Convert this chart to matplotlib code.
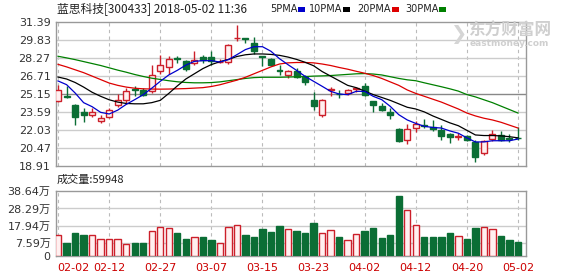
import matplotlib
matplotlib.use("Agg")
import matplotlib.pyplot as plt
import matplotlib.transforms as mtransforms

plt.rcParams['font.family'] = ['DejaVu Sans', 'Noto Sans CJK SC']

dates = ["02-02","02-05","02-06","02-07","02-08","02-09","02-12","02-13","02-14","02-22",
         "02-23","02-26","02-27","02-28","03-01","03-02","03-05","03-06","03-07","03-08",
         "03-09","03-12","03-13","03-14","03-15","03-16","03-19","03-20","03-21","03-22",
         "03-23","03-26","03-27","03-28","03-29","03-30","04-02","04-03","04-04","04-09",
         "04-10","04-11","04-12","04-13","04-16","04-17","04-18","04-19","04-20","04-23",
         "04-24","04-25","04-26","04-27","05-02"]
opens  = [24.52,24.95,24.17,23.56,23.36,22.84,23.19,24.17,24.66,25.55,
          25.50,25.38,27.12,27.46,28.30,28.04,27.84,28.33,28.33,27.92,
          27.89,29.98,29.98,29.57,28.43,28.18,27.20,26.77,27.12,26.60,
          24.66,23.30,25.50,25.18,25.21,25.58,25.82,24.52,24.11,23.59,
          22.12,21.19,22.20,22.43,22.32,22.06,21.68,21.46,21.48,20.99,
          20.04,21.28,21.57,21.30,21.33]
closes = [25.53,24.86,23.13,23.36,23.56,23.07,23.76,24.60,25.38,25.48,
          25.08,26.83,27.69,28.21,28.22,27.35,28.13,28.10,27.98,27.96,
          29.43,30.03,29.93,28.85,28.38,27.63,27.15,27.12,26.62,26.19,
          24.08,24.66,25.55,25.12,25.50,25.63,25.04,24.17,23.76,23.30,
          21.05,22.12,22.55,22.38,22.15,21.48,21.40,21.50,21.20,19.66,
          21.05,21.68,21.17,21.26,21.30]
highs  = [25.96,25.84,24.28,23.94,23.94,23.30,23.94,25.15,25.67,25.84,
          25.67,27.69,28.56,28.41,28.45,28.13,28.85,28.56,28.85,28.20,
          29.48,31.10,30.02,30.06,28.47,28.27,27.69,27.26,27.40,26.77,
          25.32,24.70,25.73,25.53,25.61,25.73,26.10,24.55,24.37,23.94,
          22.20,22.55,22.78,23.01,22.93,22.43,21.77,21.77,21.63,21.19,
          21.19,22.06,21.97,21.68,22.26]
lows   = [24.50,24.78,22.43,22.72,23.19,22.64,23.07,24.00,24.28,24.98,
          24.95,25.24,26.88,26.88,27.82,27.17,27.69,27.84,27.69,27.80,
          27.75,29.72,29.57,28.62,27.61,27.55,26.77,26.54,26.54,25.96,
          23.79,23.19,24.95,24.80,25.09,25.32,24.95,23.59,23.65,23.01,
          20.99,20.82,21.86,22.20,21.92,21.19,20.90,21.19,21.05,19.26,
          19.84,21.11,21.05,20.99,21.19]
volumes = [12.7,7.6,13.5,12.4,12.7,10.0,10.4,10.4,7.4,7.6,
           7.6,14.7,17.5,16.9,13.5,10.0,11.0,11.2,9.4,8.0,
           17.5,18.7,12.4,11.2,15.9,14.1,17.7,15.9,14.7,13.5,
           19.5,13.9,15.7,11.2,9.8,13.3,14.7,16.5,10.8,12.4,
           35.7,27.1,18.7,11.2,11.2,11.2,13.5,11.6,10.0,16.5,
           17.5,16.3,11.8,9.4,8.2]
ma5  = [26.28,25.96,25.24,24.40,24.05,23.56,23.42,23.75,24.25,24.66,
        25.09,25.65,26.25,26.80,27.20,27.65,27.98,28.04,28.04,27.92,
        28.13,28.56,29.00,29.25,29.25,28.85,28.21,27.69,27.20,26.68,
        26.25,25.82,25.38,25.15,25.09,25.38,25.38,24.95,24.66,24.08,
        23.36,22.90,22.60,22.35,22.25,22.20,21.95,21.75,21.35,20.99,
        21.00,21.10,21.10,21.10,21.25]
ma10 = [26.62,26.45,26.15,25.75,25.30,24.95,24.65,24.45,24.33,24.30,
        24.30,24.40,24.60,25.20,25.85,26.45,26.90,27.35,27.70,27.95,
        28.15,28.40,28.55,28.62,28.62,28.58,28.50,28.35,28.15,27.90,
        27.60,27.10,26.70,26.30,25.90,25.70,25.40,25.10,24.85,24.60,
        24.30,24.00,23.85,23.60,23.25,22.95,22.65,22.40,22.00,21.60,
        21.55,21.55,21.52,21.45,21.35]
ma20 = [27.72,27.50,27.25,27.00,26.70,26.40,26.10,25.90,25.75,25.65,
        25.60,25.58,25.57,25.58,25.60,25.62,25.66,25.70,25.80,25.95,
        26.15,26.35,26.60,26.90,27.20,27.50,27.75,27.85,27.88,27.88,
        27.85,27.75,27.62,27.45,27.30,27.12,26.95,26.75,26.50,26.20,
        25.90,25.50,25.20,24.95,24.70,24.45,24.15,23.85,23.50,23.25,
        23.05,22.90,22.70,22.45,22.20]
ma30 = [28.42,28.28,28.13,27.96,27.79,27.62,27.42,27.22,27.04,26.84,
        26.67,26.52,26.41,26.30,26.21,26.15,26.12,26.12,26.14,26.20,
        26.30,26.40,26.50,26.57,26.60,26.60,26.60,26.62,26.64,26.66,
        26.70,26.72,26.75,26.80,26.85,26.90,26.92,26.88,26.80,26.65,
        26.50,26.38,26.30,26.12,25.95,25.78,25.60,25.40,25.10,24.90,
        24.65,24.40,24.10,23.80,23.50]
price_ticks = [18.91,20.47,22.03,23.59,25.15,26.71,28.27,29.83,31.39]
vol_ticks = [0,7.59,17.94,28.29,38.64]
vol_tick_labels = ["0","7.59万","17.94万","28.29万","38.64万"]
grid_idx = [0,6,12,18,24,30,36,42,48,54]

UP = '#cc1f2a'
DOWN = '#0b6e35'
UPFILL = '#fff0f0'
W, H = 578, 276
fig = plt.figure(figsize=(W/100, H/100), dpi=100)
fig.patch.set_facecolor('white')

L, R = 55.5, 526
ax = fig.add_axes([L/W, 1-166/H, (R-L)/W, (166-22)/H])
axv = fig.add_axes([L/W, 1-256/H, (R-L)/W, (256-191)/H])

n = len(dates)
xs = list(range(n))
for a in (ax, axv):
    a.set_xlim(-0.3, n - 0.06)
    for s in a.spines.values():
        s.set_color('#999999')
        s.set_linewidth(1)
    for gi in grid_idx:
        a.axvline(gi, color='#bbbbbb', lw=0.8, ls=(0, (3, 3)), zorder=0)
    a.tick_params(length=0)

# price panel
ax.set_ylim(price_ticks[0], price_ticks[-1])
ax.set_yticks(price_ticks)
ax.set_yticklabels([f"{t:.2f}" for t in price_ticks], fontsize=8, color='#333333')
for t in price_ticks[1:-1]:
    ax.axhline(t, color='#888888' if abs(t - 25.15) < 1e-6 else '#cccccc', lw=1, zorder=0)
ax.set_xticks([])

bw = 0.7
for i in xs:
    o, c, h, l = opens[i], closes[i], highs[i], lows[i]
    up = c >= o
    col = UP if up else DOWN
    ax.vlines(i, l, h, color=col, lw=1, zorder=2)
    bot = min(o, c)
    ht = max(abs(c - o), 0.02)
    ax.bar(i, ht, bottom=bot, width=bw, color=UPFILL if up else DOWN,
           edgecolor=col, linewidth=1, zorder=3)

ax.plot(xs, ma30, color='#008000', lw=0.9, zorder=4)
ax.plot(xs, ma20, color='#dd0000', lw=0.9, zorder=4)
ax.plot(xs, ma10, color='#000000', lw=0.9, zorder=4)
ax.plot(xs, ma5, color='#0000cc', lw=0.9, zorder=4)

# volume panel
axv.set_ylim(0, vol_ticks[-1])
axv.set_yticks(vol_ticks)
axv.set_yticklabels(vol_tick_labels, fontsize=8, color='#333333')
for t in vol_ticks[1:-1]:
    axv.axhline(t, color='#cccccc', lw=1, zorder=0)
for i in xs:
    up = closes[i] >= opens[i]
    axv.bar(i, volumes[i], width=0.75, color=UPFILL if up else DOWN,
            edgecolor=UP if up else DOWN, linewidth=1, zorder=3)
axv.set_xticks(grid_idx)
axv.set_xticklabels([dates[g] for g in grid_idx], fontsize=8, color='#cc0000')
axv.tick_params(axis='x', pad=5)
first = axv.get_xticklabels()[0]
first.set_ha('left')
first.set_transform(first.get_transform() + mtransforms.ScaledTranslation(-1/100, 0, fig.dpi_scale_trans))

# header texts
fig.text(57/W, 1-9/H, "蓝思科技[300433] 2018-05-02 11:36", fontsize=8.5,
         family=['Noto Sans CJK SC', 'DejaVu Sans'], color='#222222', va='center')
leg = [("5PMA", '#0000cc', 270), ("10PMA", '#000000', 309), ("20PMA", '#dd0000', 357), ("30PMA", '#008000', 405)]
for name, col, x0 in leg:
    t = fig.text(x0/W, 1-9/H, name, fontsize=7, color='#222222', va='center')
fig.canvas.draw()
renderer = fig.canvas.get_renderer()
for t, (name, col, x0) in zip(fig.texts[1:], leg):
    bb = t.get_window_extent(renderer)
    fig.add_artist(plt.Rectangle(((bb.x1 + 1)/W, 1-12/H), 7/W, 5/H, transform=fig.transFigure,
                                 color=col, lw=0))

fig.text(57/W, 1-180/H, "成交量:59948", fontsize=8, family=['Noto Sans CJK SC', 'DejaVu Sans'],
         color='#222222', va='center')

# watermark
fig.text(468/W, 1-31/H, "东方财富网", fontsize=12, family=['Noto Sans CJK SC'], color='#cfcfcf',
         va='center', weight='bold')
fig.text(470/W, 1-43/H, "eastmoney.com", fontsize=6.5, color='#cfcfcf', va='center', weight='bold')
fig.text(450/W, 1-34/H, "❯", fontsize=14, color='#d5d5d5', va='center')

fig.savefig("out.png", dpi=100, facecolor='white')
